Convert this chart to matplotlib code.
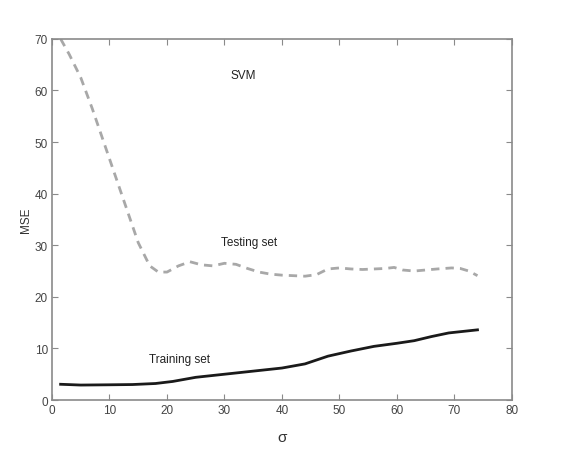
import numpy as np
import matplotlib
matplotlib.use("Agg")
import matplotlib.pyplot as plt

plt.rcParams['font.family'] = ['Liberation Sans', 'DejaVu Sans']

# Testing set MSE (dashed grey)
sigma_test = [1.5, 3, 5, 7, 9, 11, 13, 15, 17, 18.5, 20, 22, 24, 26, 28, 30, 32, 34, 36,
              38, 40, 42, 44, 46, 48, 50, 52, 54, 56, 58, 59.5, 61, 63, 65, 67, 69.5, 71,
              72.5, 74]
mse_test = [70, 67, 62.5, 56.5, 50, 43.5, 37, 30.5, 26, 24.8, 24.8, 26, 26.8, 26.2, 26,
            26.5, 26.3, 25.5, 24.8, 24.4, 24.2, 24.1, 24, 24.3, 25.4, 25.6, 25.4, 25.3,
            25.4, 25.5, 25.7, 25.2, 25, 25.2, 25.4, 25.6, 25.5, 25, 24.1]

# Training set MSE (solid black)
sigma_train = [1.5, 5, 10, 14, 18, 21, 25, 30, 35, 40, 44, 48, 52, 56, 60, 63, 66, 69, 74]
mse_train = [3.05, 2.9, 2.95, 3.0, 3.2, 3.6, 4.4, 5.0, 5.6, 6.2, 7.0, 8.5, 9.5, 10.4,
             11.0, 11.5, 12.3, 13.0, 13.6]

fig = plt.figure(figsize=(5.7, 4.52), dpi=100)
ax = fig.add_axes([0.0912, 0.1128, 0.807, 0.799])

ax.plot(sigma_test, mse_test, color='#a8a8a8', lw=2, ls=(0, (3, 2.2)))
ax.plot(sigma_train, mse_train, color='#1a1a1a', lw=2)

ax.set_xlim(0, 80)
ax.set_ylim(0, 70)
ax.set_xticks(range(0, 81, 10))
ax.set_yticks(range(0, 71, 10))

for s in ax.spines.values():
    s.set_color('#8a8a8a')
    s.set_linewidth(1.2)
ax.tick_params(direction='in', top=True, right=True, length=4, color='#8a8a8a',
               labelsize=8.5, labelcolor='#444444', pad=3)

ax.set_xlabel('σ', fontsize=11, color='#333333', labelpad=10)
ax.set_ylabel('MSE', fontsize=8.5, color='#333333', labelpad=2)

ax.text(33.2, 63, 'SVM', fontsize=8.5, color='#222222', ha='center', va='center')
ax.text(34.3, 30.6, 'Testing set', fontsize=8.5, color='#222222', ha='center', va='center')
ax.text(22.1, 7.9, 'Training set', fontsize=8.5, color='#222222', ha='center', va='center')

fig.savefig('out.png', dpi=100)
